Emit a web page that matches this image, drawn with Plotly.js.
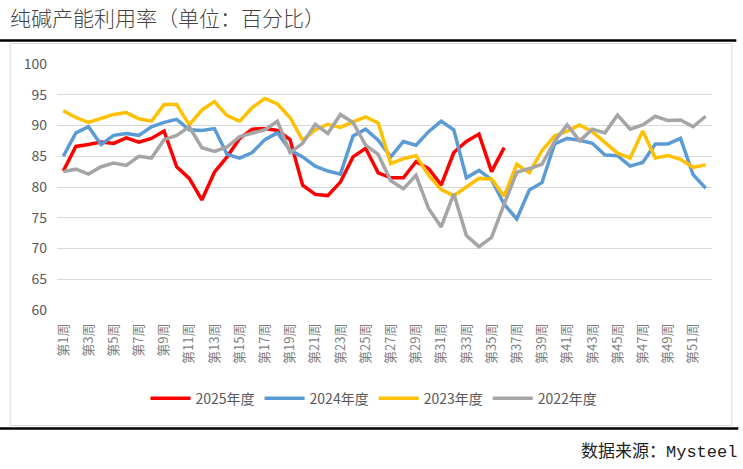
<!DOCTYPE html>
<html>
<head>
<meta charset="utf-8">
<script src="https://cdn.plot.ly/plotly-3.0.1.min.js"></script>
<style>
  html, body { margin: 0; padding: 0; background: #ffffff; }
  #chart { width: 743px; height: 469px; }
</style>
</head>
<body>
<div id="chart"></div>
<script>
// ---- Data ----
var weeks = ["第1周","第2周","第3周","第4周","第5周","第6周","第7周","第8周","第9周","第10周",
  "第11周","第12周","第13周","第14周","第15周","第16周","第17周","第18周","第19周","第20周",
  "第21周","第22周","第23周","第24周","第25周","第26周","第27周","第28周","第29周","第30周",
  "第31周","第32周","第33周","第34周","第35周","第36周","第37周","第38周","第39周","第40周",
  "第41周","第42周","第43周","第44周","第45周","第46周","第47周","第48周","第49周","第50周",
  "第51周","第52周"];

var tickWeeks = ["第1周","第3周","第5周","第7周","第9周","第11周","第13周","第15周","第17周",
  "第19周","第21周","第23周","第25周","第27周","第29周","第31周","第33周","第35周","第37周",
  "第39周","第41周","第43周","第45周","第47周","第49周","第51周"];

var y2025 = [82.6, 86.6, 86.9, 87.3, 87.1, 88.0, 87.3, 87.9, 89.1, 83.3,
  81.4, 77.9, 82.4, 84.9, 87.9, 89.4, 89.5, 89.2, 87.7, 80.3,
  78.8, 78.6, 80.8, 84.9, 86.3, 82.3, 81.5, 81.5, 84.1, 83.0,
  80.3, 85.6, 87.4, 88.6, 82.5, 86.4];

var y2024 = [85.0, 88.8, 89.8, 86.9, 88.4, 88.7, 88.4, 89.8, 90.5, 91.0,
  89.3, 89.2, 89.5, 85.3, 84.7, 85.6, 87.7, 88.8, 86.0, 84.9,
  83.4, 82.6, 82.1, 88.3, 89.4, 87.6, 84.9, 87.4, 86.8, 89.0,
  90.7, 89.3, 81.5, 82.7, 81.2, 77.2, 74.8, 79.5, 80.7, 87.0,
  87.9, 87.6, 87.1, 85.2, 85.1, 83.4, 84.0, 87.0, 87.0, 87.9,
  82.0, 79.8];

var y2023 = [92.4, 91.3, 90.5, 91.1, 91.8, 92.1, 91.1, 90.7, 93.4, 93.4,
  90.1, 92.5, 93.9, 91.6, 90.7, 92.9, 94.4, 93.5, 91.3, 87.6,
  89.3, 90.2, 89.7, 90.6, 91.4, 90.4, 83.8, 84.6, 85.1, 81.9,
  79.6, 78.6, 80.0, 81.4, 81.3, 78.5, 83.7, 82.3, 85.9, 88.3,
  89.1, 90.1, 89.0, 87.3, 85.5, 84.7, 89.1, 84.7, 85.1, 84.5,
  83.2, 83.6];

var y2022 = [82.5, 82.9, 82.1, 83.3, 83.9, 83.5, 85.0, 84.7, 87.7, 88.4,
  89.8, 86.4, 85.8, 86.5, 88.2, 88.8, 89.3, 90.7, 85.6, 87.1,
  90.2, 88.7, 91.8, 90.5, 86.8, 85.3, 81.0, 79.7, 81.9, 76.5,
  73.5, 78.9, 72.1, 70.3, 71.8, 77.2, 82.4, 83.0, 83.7, 87.4,
  90.1, 87.5, 89.4, 88.8, 91.7, 89.4, 90.1, 91.5, 90.8, 90.9,
  89.8, 91.5];

var seriesNames = ["2025年度", "2024年度", "2023年度", "2022年度"];
var seriesColors = ["#FF0000", "#5B9BD5", "#FFC000", "#A5A5A5"];
var seriesValues = [y2025, y2024, y2023, y2022];

// ---- Layout geometry (pixels) ----
var W = 743, H = 469;
var L = 57.3, R = 711.7, T = 64, B = 309.6;
function fx(px) { return (px - L) / (R - L); }
function fy(py) { return (B - py) / (B - T); }

var traces = seriesValues.map(function (vals, i) {
  return {
    type: 'scatter',
    mode: 'lines',
    name: seriesNames[i],
    x: weeks.slice(0, vals.length),
    y: vals,
    line: { color: seriesColors[i], width: 3.5 },
    hoverinfo: 'x+y+name'
  };
});

var cjk = '"Noto Sans CJK SC", "Noto Sans", sans-serif';

var layout = {
  width: W, height: H,
  paper_bgcolor: '#ffffff',
  plot_bgcolor: '#ffffff',
  margin: { l: L, r: W - R, t: T, b: H - B, pad: 0 },
  showlegend: true,
  title: {
    text: '纯碱产能利用率（单位：百分比）',
    x: 10 / W, xref: 'container', xanchor: 'left',
    y: 1 - 19 / H, yref: 'container', yanchor: 'middle',
    font: { family: cjk, size: 21, color: '#444444', weight: 300 }
  },
  xaxis: {
    type: 'category',
    categoryorder: 'array',
    categoryarray: weeks,
    range: [-0.5, 51.5],
    tickmode: 'array',
    tickvals: tickWeeks,
    ticktext: tickWeeks,
    tickangle: -90,
    ticks: '',
    ticklabelstandoff: 10,
    showgrid: false,
    showline: false,
    zeroline: false,
    tickfont: { family: cjk, size: 13, color: '#7F7F7F' },
    automargin: false,
    fixedrange: true
  },
  yaxis: {
    range: [60, 100],
    dtick: 5,
    tick0: 60,
    ticks: '',
    showgrid: true,
    gridcolor: '#D9D9D9',
    gridwidth: 1,
    zeroline: false,
    showline: false,
    ticklabelstandoff: 9,
    tickfont: { family: cjk, size: 14, color: '#595959' },
    automargin: false,
    fixedrange: true
  },
  legend: {
    orientation: 'h',
    x: fx(374), xanchor: 'center',
    y: fy(398), yanchor: 'middle',
    font: { family: cjk, size: 14, color: '#595959' },
    itemwidth: 40,
    tracegroupgap: 0,
    bgcolor: 'rgba(0,0,0,0)'
  },
  shapes: [
    // chart frame
    { type: 'rect', xref: 'paper', yref: 'paper',
      x0: fx(10.5), x1: fx(731.5), y0: fy(425), y1: fy(43.5),
      line: { color: '#D9D9D9', width: 1 }, fillcolor: 'rgba(0,0,0,0)', layer: 'below' },
    // thick top rule
    { type: 'line', xref: 'paper', yref: 'paper',
      x0: fx(0), x1: fx(736), y0: fy(40.5), y1: fy(40.5),
      line: { color: '#000000', width: 2.5 } },
    // thick bottom rule
    { type: 'line', xref: 'paper', yref: 'paper',
      x0: fx(0), x1: fx(738), y0: fy(428), y1: fy(428),
      line: { color: '#000000', width: 2.5 } }
  ],
  annotations: [
    { text: '数据来源：Mysteel', xref: 'paper', yref: 'paper',
      x: fx(739), y: fy(451), xanchor: 'right', yanchor: 'middle',
      showarrow: false,
      font: { family: '"Liberation Mono", "Noto Sans CJK SC", monospace', size: 17, color: '#222222' } }
  ]
};

Plotly.newPlot('chart', traces, layout, { displayModeBar: false, staticPlot: true });
</script>
</body>
</html>
